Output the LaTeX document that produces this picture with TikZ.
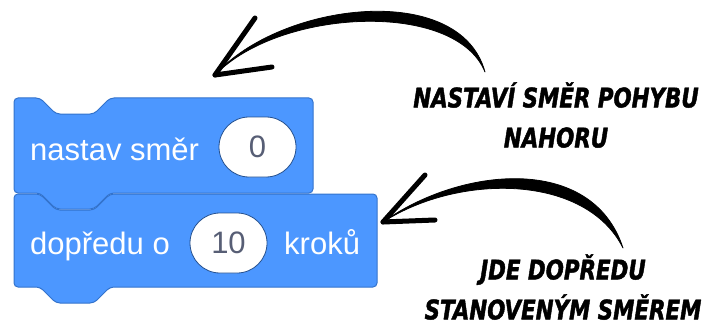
\documentclass[tikz,border=0pt]{standalone}
\usepackage{fontspec}
\setmainfont{Liberation Sans}
\newfontfamily\brushfont{DejaVu Sans Condensed Bold Oblique}[FakeStretch=0.88,FakeBold=1.6]
\definecolor{motion}{HTML}{4C97FF}
\definecolor{motionedge}{HTML}{3373CC}
\definecolor{fieldtext}{HTML}{575E75}

\begin{document}
\begin{tikzpicture}[x=1pt,y=-1pt,
  blk/.style={fill=motion,draw=motionedge,line width=1pt,rounded corners=4pt},
  word/.style={text=white,font=\fontsize{31}{36}\selectfont,inner sep=0pt},
  field/.style={rectangle,rounded corners=30pt,fill=white,draw=motionedge!70!black,
                line width=0.8pt,minimum width=77pt,minimum height=60pt,inner sep=0pt,
                text=fieldtext,font=\fontsize{31}{36}\selectfont},
  note/.style={align=center,inner sep=0pt,font=\brushfont\fontsize{27}{40}\selectfont},
  brush/.style={fill=black,draw=black,line width=0.8pt,line join=round},
  tipline/.style={draw=black,line width=5pt,line cap=round}]
\useasboundingbox (0,0) rectangle (710,329);

% lower block first, so the tab of the upper one lies over its notch
\draw[blk] (14,194) -- (40,194) -- (56,210) -- (94,210) -- (110,194) -- (377,194)
  -- (377,287) -- (110,287) -- (94,303) -- (56,303) -- (40,287) -- (14,287) -- cycle;
\draw[blk] (14,98) -- (40,98) -- (56,114) -- (94,114) -- (110,98) -- (313,98)
  -- (313,193) -- (110,193) -- (94,209) -- (56,209) -- (40,193) -- (14,193) -- cycle;

\node[word,anchor=base west] (setdir) at (30,160) {nastav směr};
\node[field] (dirval) at (257.5,147) {0};
\node[word,anchor=base west] (move) at (30,254) {dopředu o};
\node[field] (stepval) at (228.5,243) {10};
\node[word,anchor=base west] (steps) at (284,254) {kroků};

% notes
\node[note,anchor=south] (setnote) at (556,148) {NASTAVÍ SMĚR POHYBU\\NAHORU};
\node[note,anchor=south] (movenote) at (563,320) {JDE DOPŘEDU\\STANOVENÝM SMĚREM};

% brush arrows from the notes to the blocks
\coordinate (tail1) at (485,72);
\coordinate (tip1) at (215,75);
\path[brush] (tail1) .. controls +(-25,-92) and +(65,-73) .. (tip1)
  .. controls +(65,-67) and +(-29,-72) .. (tail1) -- cycle;
\draw[tipline] (tip1) -- +(40,-57);
\draw[tipline] (tip1) -- +(57,-8);

\coordinate (tail2) at (623,248);
\coordinate (tip2) at (383,222);
\path[brush] (tail2) .. controls +(-31,-95) and +(77,-55) .. (tip2)
  .. controls +(77,-49) and +(-37,-74) .. (tail2) -- cycle;
\draw[tipline] (tip2) -- +(42,-47);
\draw[tipline] (tip2) -- +(52,-2);
\end{tikzpicture}
\end{document}
